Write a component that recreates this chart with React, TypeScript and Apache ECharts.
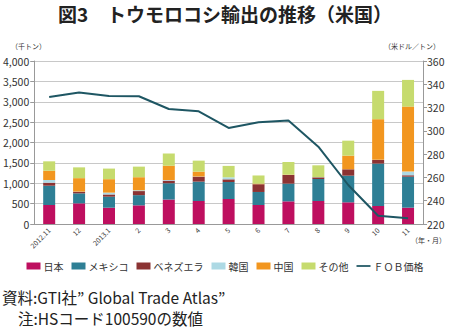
import React, { useEffect, useRef } from "react";
import * as echarts from "echarts";

const categories = ["2012.11", "12", "2013.1", "2", "3", "4", "5", "6", "7", "8", "9", "10", "11"];
const japan = [466, 507, 400, 458, 600, 565, 613, 466, 556, 564, 532, 442, 401];
const mexico = [474, 245, 270, 250, 400, 475, 418, 320, 434, 540, 654, 1040, 760];
const venezuela = [74, 38, 55, 100, 65, 120, 65, 190, 212, 41, 156, 90, 35];
const korea = [66, 5, 45, 20, 15, 5, 50, 0, 0, 5, 0, 5, 90];
const china = [228, 330, 330, 320, 350, 120, 0, 15, 10, 0, 335, 995, 1595];
const others = [230, 265, 260, 260, 300, 270, 280, 200, 310, 290, 368, 695, 655];
const fobPrice = [329, 333, 330, 329.7, 318.8, 316.8, 302.5, 307.4, 308.8, 286.4, 253.5, 227.1, 224.9];
const leftTicks = [0, 4000, 500];
const rightTicks = [220, 360, 20];

const FONT = "'Noto Sans CJK JP', 'Noto Sans', sans-serif";

export default function App() {
  const ref = useRef<HTMLDivElement>(null);
  useEffect(() => {
    if (!ref.current) return;
    const chart = echarts.init(ref.current, null, { renderer: "svg" });
    const barNames = ["日本", "メキシコ", "ベネズエラ", "韓国", "中国", "その他"];
    const barColors = ["#BE0F5F", "#2E7F95", "#8B3333", "#ADD9E4", "#F2961F", "#C6DB6E"];
    const barData = [japan, mexico, venezuela, korea, china, others];
    const series: any[] = barData.map((d, i) => ({
      name: barNames[i],
      type: "bar",
      stack: "total",
      data: d,
      barWidth: 12,
      itemStyle: { color: barColors[i] },
    }));
    series.push({
      name: "ＦＯＢ価格",
      type: "line",
      yAxisIndex: 1,
      data: fobPrice,
      symbol: "none",
      lineStyle: { color: "#1E5663", width: 2 },
      itemStyle: { color: "#1E5663" },
      z: 5,
    });
    chart.setOption({
      animation: false,
      textStyle: { fontFamily: FONT },
      grid: { left: 33, right: 27, top: 61, bottom: 104 },
      legend: {
        left: "center",
        top: 256,
        itemWidth: 14,
        itemHeight: 7,
        itemGap: 8,
        textStyle: { fontSize: 10, color: "#333", fontFamily: FONT, padding: [0, 0, 0, -2] },
        data: [
          ...barNames.map((n) => ({ name: n, icon: "rect" })),
          { name: "ＦＯＢ価格", icon: "path://M0,0H16V2H0Z", itemStyle: { color: "#1E5663" } },
        ],
      },
      xAxis: {
        type: "category",
        data: categories,
        axisLine: { lineStyle: { color: "#999" } },
        axisTick: { lineStyle: { color: "#999" }, length: 4 },
        axisLabel: { rotate: 45, fontSize: 7, color: "#333", margin: 5, interval: 0 },
      },
      yAxis: [
        {
          type: "value",
          min: leftTicks[0],
          max: leftTicks[1],
          interval: leftTicks[2],
          axisLine: { show: true, lineStyle: { color: "#999" } },
          axisTick: { show: true, lineStyle: { color: "#999" }, length: 4 },
          axisLabel: {
            fontSize: 10.5,
            color: "#333",
            margin: 5,
            formatter: (v: number) => v.toLocaleString("en-US"),
          },
          splitLine: { lineStyle: { color: "#c8c8c8" } },
        },
        {
          type: "value",
          min: rightTicks[0],
          max: rightTicks[1],
          interval: rightTicks[2],
          axisLine: { show: true, lineStyle: { color: "#999" } },
          axisTick: { show: true, lineStyle: { color: "#999" }, length: 4 },
          axisLabel: { fontSize: 10.5, color: "#333", margin: 4 },
          splitLine: { show: false },
        },
      ],
      graphic: [
        {
          type: "text",
          left: "center",
          top: 4,
          style: { text: "図3　トウモロコシ輸出の推移（米国）", fontSize: 19, fontWeight: "bold", fill: "#222", fontFamily: FONT },
        },
        { type: "text", left: 11, top: 42, style: { text: "（千トン）", fontSize: 7, fill: "#333", fontFamily: FONT } },
        { type: "text", right: 10, top: 42, style: { text: "（米ドル／トン）", fontSize: 7, fill: "#333", fontFamily: FONT } },
        { type: "text", right: 4, top: 236, style: { text: "（年・月）", fontSize: 7, fill: "#333", fontFamily: FONT } },
        {
          type: "text",
          left: 2,
          top: 289,
          style: { text: "資料:GTI社” Global Trade Atlas”", fontSize: 15.5, fill: "#222", fontFamily: FONT },
        },
        {
          type: "text",
          left: 18,
          top: 310,
          style: { text: "注:HSコード100590の数値", fontSize: 15.5, fill: "#222", fontFamily: FONT },
        },
      ],
      series,
    });
    return () => chart.dispose();
  }, []);
  return <div ref={ref} style={{ width: 450, height: 328, position: "absolute", left: 0, top: 0 }} />;
}
